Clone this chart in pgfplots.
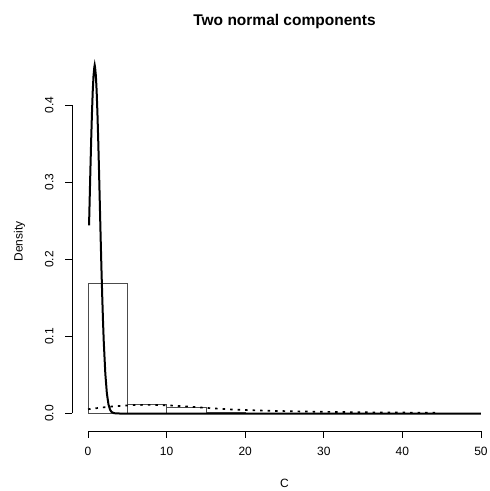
\documentclass[border=0pt]{standalone}
\usepackage{pgfplots}
\pgfplotsset{compat=1.18}
\usepackage{fontspec}
\setmainfont{Liberation Sans}
\begin{document}
\begin{tikzpicture}
\useasboundingbox (0,0) rectangle (490pt,491pt);
\begin{axis}[
  at={(72.3pt,60pt)}, anchor=south west,
  scale only axis, width=424.4pt, height=379pt,
  xmin=-2, xmax=52, ymin=-0.0227, ymax=0.469,
  clip=false,
  separate axis lines,
  axis x line*=bottom, axis y line*=left,
  x axis line style={-, black, line width=0.6pt, shorten <=15.72pt, shorten >=15.72pt},
  y axis line style={-, black, line width=0.6pt, shorten <=17.5pt, shorten >=53.2pt},
  xtick={0,10,20,30,40,50},
  ytick={0,0.1,0.2,0.3,0.4},
  yticklabels={0.0,0.1,0.2,0.3,0.4},
  tick align=outside, major tick length=7pt,
  tick style={black, line width=0.6pt},
  /pgf/number format/assume math mode=true,
  ticklabel style={font=\fontsize{12}{14}\selectfont},
  xticklabel style={anchor=base, yshift=-18pt},
  yticklabel style={xshift=-12pt, rotate=90, anchor=base},
  title={Two normal components},
  title style={font=\bfseries\fontsize{15.5}{16}\selectfont, at={(axis description cs:0.5,1)}, anchor=base, yshift=20pt},
  xlabel={C},
  xlabel style={font=\fontsize{12}{14}\selectfont, at={(axis description cs:0.5,0)}, anchor=base, yshift=-57pt},
  ylabel={Density},
  ylabel style={font=\fontsize{12}{14}\selectfont, at={(axis description cs:-0.1169,0.5)}, anchor=base, rotate=0},
]
% histogram
\addplot[ybar interval, draw=black!70, fill=none, line width=0.7pt] coordinates {
(0,0.169)(5,0.0124)(10,0.008)(15,0.002)(20,0)(25,0)(30,0)(35,0)(40,0)(45,0)(50,0)
};
% second component (dotted)
\addplot[black, line width=1.7pt, dash pattern=on 2.5pt off 5pt] coordinates {
(0,0.0055)(1,0.0068)(2,0.008)(3,0.009)(4,0.0098)(5,0.0105)(6,0.011)(7,0.0112)(8,0.0112)(9,0.011)(10,0.0106)(11,0.0101)(12,0.0095)(13,0.0088)(14,0.008)(15,0.0073)(16,0.0066)(17,0.006)(18,0.0054)(19,0.0049)(20,0.0045)(22,0.0038)(24,0.0033)(26,0.0029)(28,0.0025)(30,0.0022)(32,0.0019)(34,0.0017)(36,0.0015)(38,0.0013)(40,0.0012)(42,0.0011)(44.5,0.001)
};
% first component (solid)
\addplot[black, line width=2pt] coordinates {
(0.13,0.244)(0.2,0.273)(0.3,0.315)(0.4,0.354)(0.5,0.389)(0.6,0.418)(0.7,0.438)(0.8,0.449)(0.85,0.452)(0.9,0.449)(1.0,0.438)(1.1,0.418)(1.2,0.389)(1.3,0.354)(1.4,0.315)(1.5,0.273)(1.6,0.231)(1.7,0.191)(1.8,0.155)(1.9,0.122)(2.0,0.094)(2.2,0.052)(2.4,0.026)(2.6,0.012)(2.8,0.005)(3.0,0.0019)(3.3,0.0004)(4,0)(10,0)(20,0)(30,0)(40,0)(50,0)
};
\end{axis}
\end{tikzpicture}
\end{document}
